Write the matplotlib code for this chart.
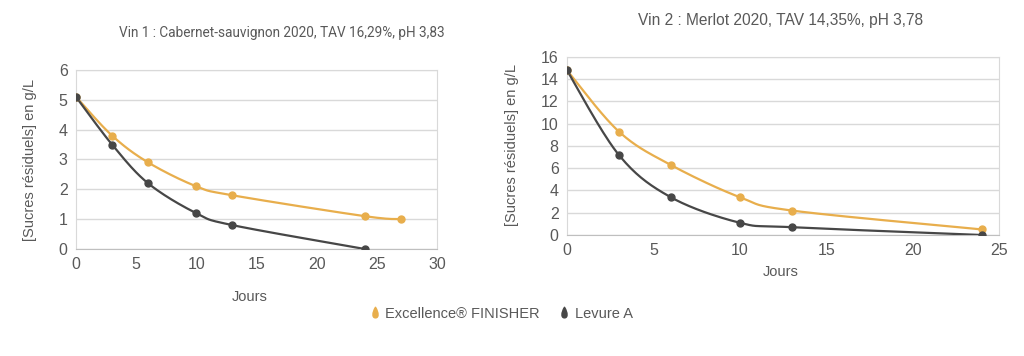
import numpy as np
import matplotlib.pyplot as plt
from matplotlib.path import Path
from matplotlib.lines import Line2D

# data
jours_v1_exc = [0, 3, 6, 10, 13, 24, 27]
sucres_v1_exc = [5.1, 3.8, 2.9, 2.1, 1.8, 1.1, 1.0]
jours_v1_lev = [0, 3, 6, 10, 13, 24]
sucres_v1_lev = [5.1, 3.5, 2.2, 1.2, 0.8, 0.0]

jours_v2 = [0, 3, 6, 10, 13, 24]
sucres_v2_exc = [14.8, 9.3, 6.3, 3.4, 2.2, 0.5]
sucres_v2_lev = [14.8, 7.2, 3.4, 1.1, 0.7, 0.0]

titre_v1 = "Vin 1 : Cabernet-sauvignon 2020, TAV 16,29%, pH 3,83"
titre_v2 = "Vin 2 : Merlot 2020, TAV 14,35%, pH 3,78"
noms = ["Excellence® FINISHER", "Levure A"]

OR = "#E8AE4C"
GRIS = "#474747"
TXT = "#595959"
GRILLE = "#D9D9D9"

plt.rcParams['font.family'] = ['Liberation Sans', 'DejaVu Sans']


def lisse(x, y, n=30):
    # Excel-like smoothed line (cubic bezier, catmull-rom control points)
    x = np.asarray(x, float); y = np.asarray(y, float)
    px = np.concatenate([[x[0]], x, [x[-1]]])
    py = np.concatenate([[y[0]], y, [y[-1]]])
    xs, ys = [], []
    t = np.linspace(0, 1, n)
    for i in range(1, len(px) - 2):
        p0 = np.array([px[i], py[i]]); p3 = np.array([px[i + 1], py[i + 1]])
        c1 = p0 + (np.array([px[i + 1], py[i + 1]]) - np.array([px[i - 1], py[i - 1]])) / 6
        c2 = p3 - (np.array([px[i + 2], py[i + 2]]) - np.array([px[i], py[i]])) / 6
        b = ((1 - t) ** 3)[:, None] * p0 + (3 * (1 - t) ** 2 * t)[:, None] * c1 \
            + (3 * (1 - t) * t ** 2)[:, None] * c2 + (t ** 3)[:, None] * p3
        xs.extend(b[:, 0]); ys.extend(b[:, 1])
    return xs, ys


def trace(ax, x, y, c):
    xs, ys = lisse(x, y)
    ax.plot(xs, ys, color=c, lw=1.6, zorder=3)
    ax.plot(x, y, 'o', color=c, ms=5, zorder=4)


def style(ax, xmax, xstep, ymax, ystep):
    ax.set_xlim(0, xmax)
    ax.set_ylim(0, ymax)
    ax.set_xticks(np.arange(0, xmax + 1, xstep))
    ax.set_yticks(np.arange(0, ymax + 1, ystep))
    for s in ax.spines.values():
        s.set_color(GRILLE)
    ax.spines['bottom'].set_color("#BFBFBF")
    ax.grid(axis='y', color=GRILLE, lw=1)
    ax.set_axisbelow(True)
    ax.tick_params(length=0, labelsize=11.5, colors=TXT, pad=6)


fig = plt.figure(figsize=(10.24, 3.56), dpi=100)

ax1 = fig.add_axes([0.0742, 0.3006, 0.3525, 0.5028])
trace(ax1, jours_v1_exc, sucres_v1_exc, OR)
trace(ax1, jours_v1_lev, sucres_v1_lev, GRIS)
style(ax1, 30, 5, 6, 1)

ax2 = fig.add_axes([0.5537, 0.3399, 0.4219, 0.5])
trace(ax2, jours_v2, sucres_v2_exc, OR)
trace(ax2, jours_v2, sucres_v2_lev, GRIS)
style(ax2, 25, 5, 16, 2)

fig.text(282 / 1024, 1 - 33 / 356, titre_v1, ha='center', va='center', fontsize=9.8, color=TXT,
         family=['Roboto', 'Liberation Sans'])
fig.text(781 / 1024, 1 - 20 / 356, titre_v2, ha='center', va='center', fontsize=11.2, color=TXT)
fig.text(30 / 1024, 1 - 160 / 356, "[Sucres résiduels] en g/L", rotation=90,
         ha='center', va='center', fontsize=10.5, color=TXT)
fig.text(512 / 1024, 1 - 145 / 356, "[Sucres résiduels] en g/L", rotation=90,
         ha='center', va='center', fontsize=10.5, color=TXT)
fig.text(250 / 1024, 1 - 297 / 356, "Jours", ha='center', va='center', fontsize=10.5, color=TXT)
fig.text(781 / 1024, 1 - 272 / 356, "Jours", ha='center', va='center', fontsize=10.5, color=TXT)

# drop shaped legend marker
goutte = Path([(0, 1), (0.55, 0.1), (0.55, -0.7), (0, -0.7), (-0.55, -0.7), (-0.55, 0.1), (0, 1), (0, 1)],
              [Path.MOVETO, Path.CURVE4, Path.CURVE4, Path.CURVE4, Path.CURVE4, Path.CURVE4, Path.CURVE4,
               Path.CLOSEPOLY])
poignees = [Line2D([], [], ls='none', marker=goutte, color=c, ms=9) for c in (OR, GRIS)]
fig.legend(poignees, noms, loc='center', bbox_to_anchor=(500 / 1024, 1 - 314 / 356), ncol=2,
           frameon=False, fontsize=10.5, labelcolor=TXT, handletextpad=0.2, columnspacing=1.2,
           handlelength=1.0)

fig.savefig("out.png", dpi=100, facecolor='white')
